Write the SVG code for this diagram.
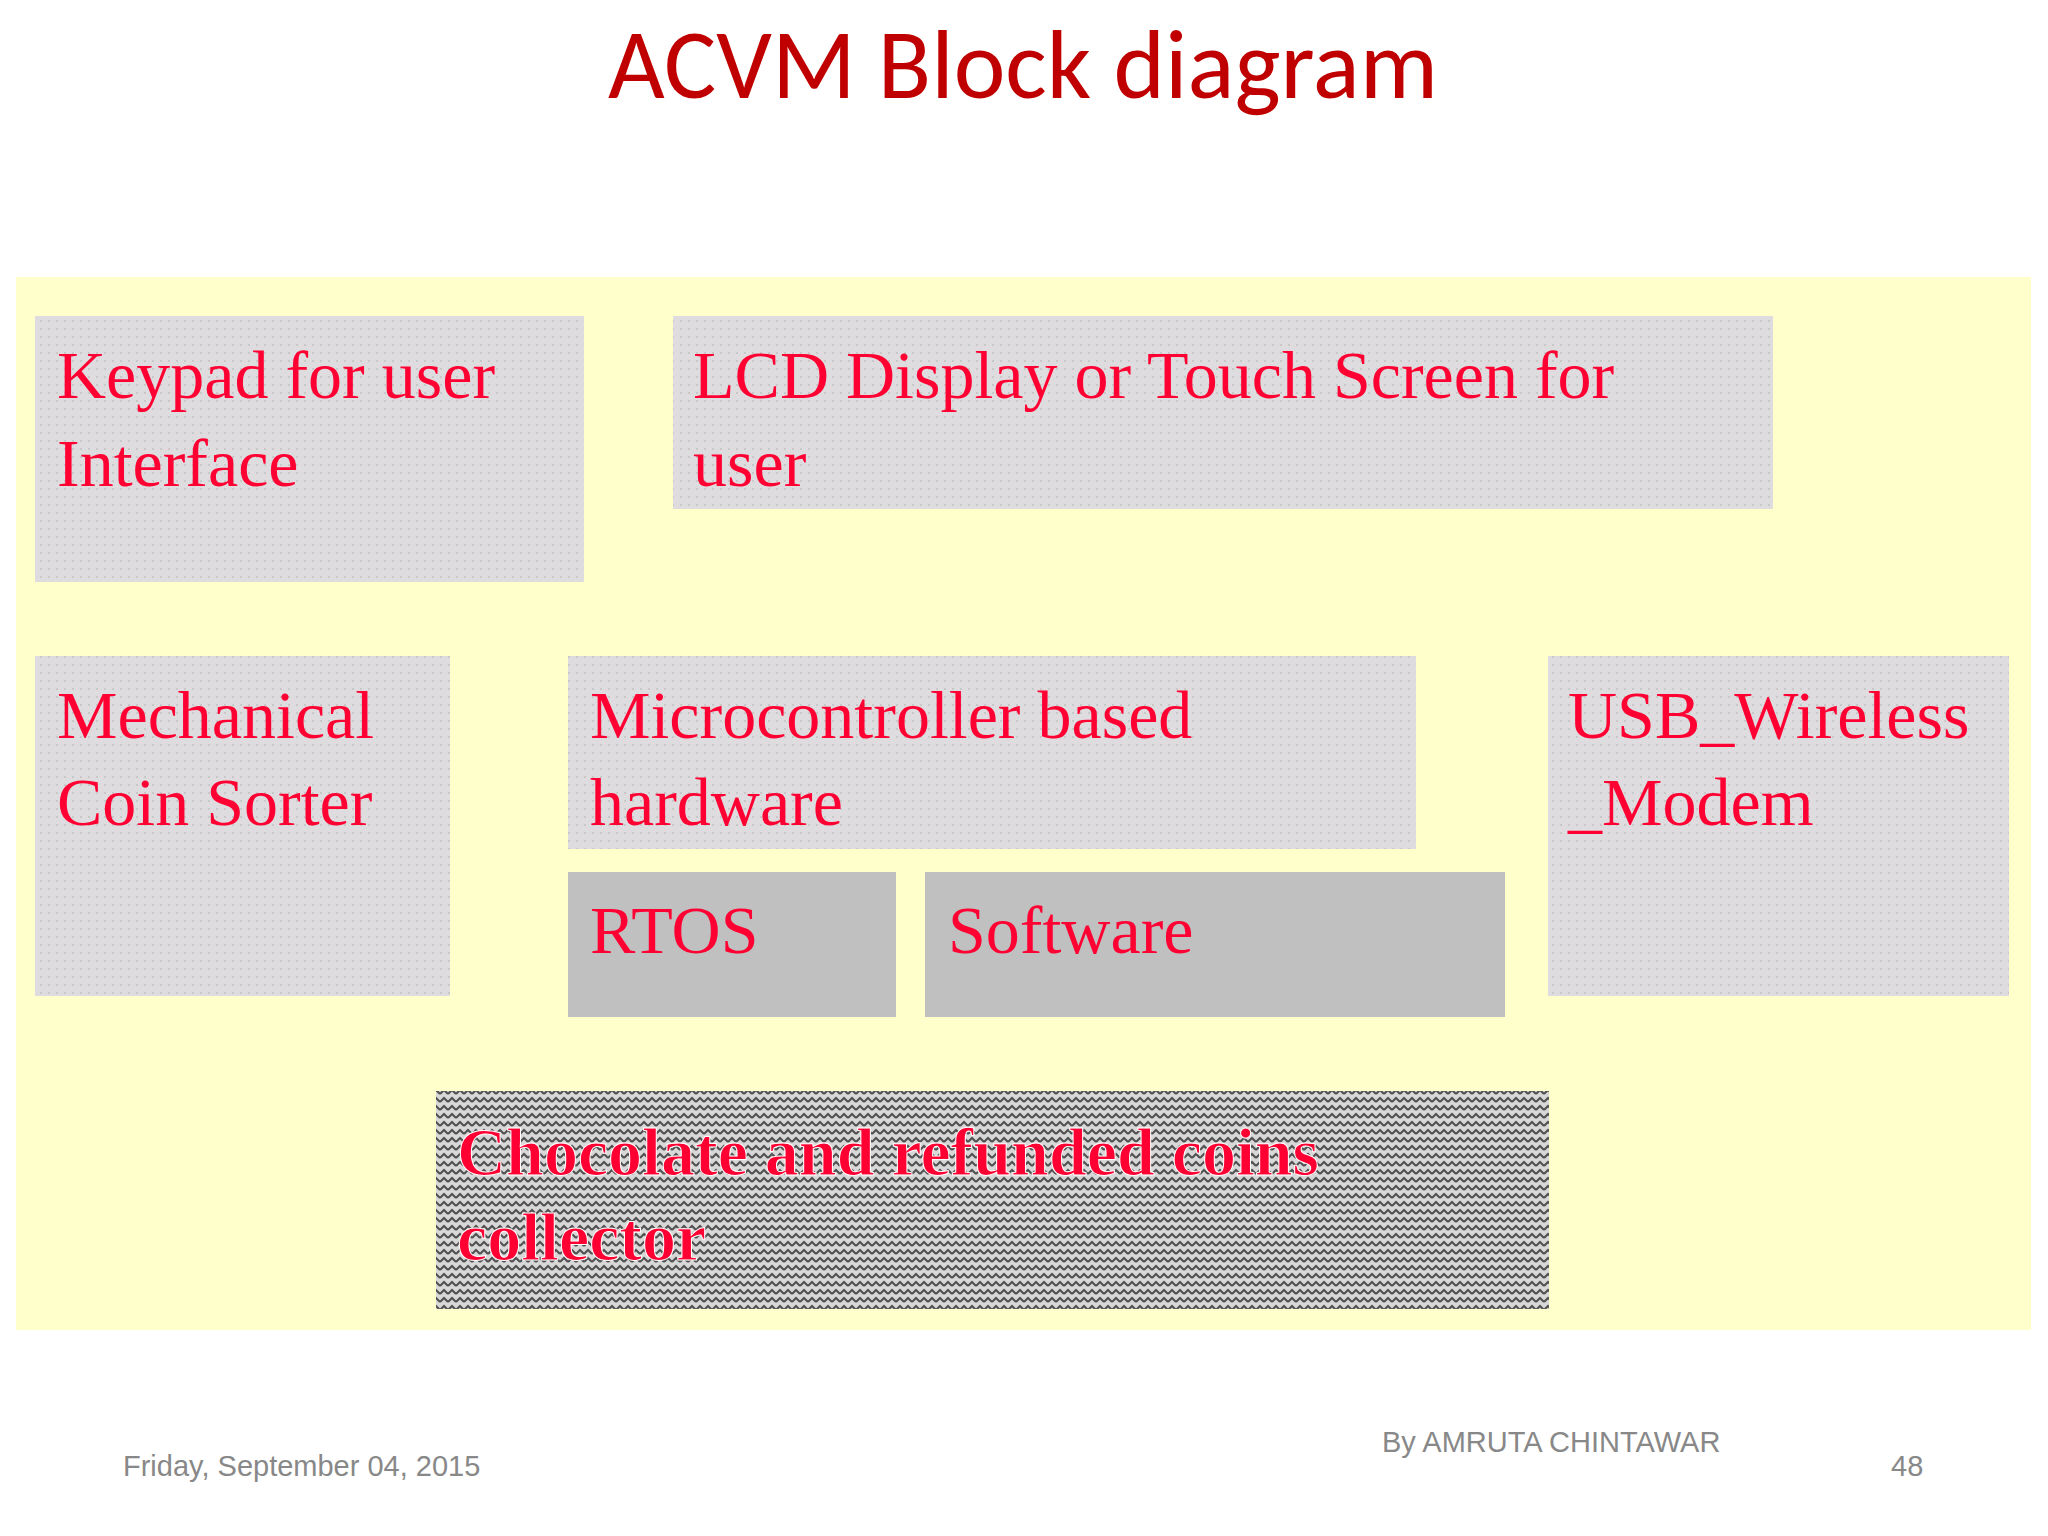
<svg xmlns="http://www.w3.org/2000/svg" width="2048" height="1536" viewBox="0 0 2048 1536">
<style>
.t{font-family:"Liberation Serif",serif;font-size:68px;fill:#FF0033}
.b{font-weight:bold;stroke:#fff;stroke-width:1px}
.f{font-family:"Liberation Sans",sans-serif;font-size:29px;fill:#888}
</style>
<defs>
<pattern id="dots" width="8" height="8" patternUnits="userSpaceOnUse">
<rect width="8" height="8" fill="#DEDCDE"/><rect x="0" y="0" width="2" height="2" fill="#C8C8C8"/>
</pattern>
<pattern id="chk" width="8" height="8" patternUnits="userSpaceOnUse">
<rect width="8" height="8" fill="#D8D8D8"/><path d="M0 6 L4 2 L8 6" stroke="#505050" stroke-width="2" fill="none"/>
</pattern>
</defs>
<rect width="2048" height="1536" fill="#fff"/>
<text x="1023" y="98" text-anchor="middle" font-family="Calibri,'Carlito','Liberation Sans',sans-serif" font-size="98" fill="#C00000">ACVM Block diagram</text>
<rect x="16" y="277" width="2015" height="1053" fill="#FFFFCC"/>
<g id="keypad"><rect x="35" y="316" width="549" height="266" fill="url(#dots)"/><text class="t" x="57" y="398">Keypad for user</text><text class="t" x="57" y="486">Interface</text></g>
<g id="lcd"><rect x="673" y="316" width="1100" height="193" fill="url(#dots)"/><text class="t" x="693" y="398">LCD Display or Touch Screen for</text><text class="t" x="693" y="486">user</text></g>
<g id="mech"><rect x="35" y="656" width="415" height="340" fill="url(#dots)"/><text class="t" x="57" y="738">Mechanical</text><text class="t" x="57" y="825">Coin Sorter</text></g>
<g id="micro"><rect x="568" y="656" width="848" height="193" fill="url(#dots)"/><text class="t" x="590" y="738">Microcontroller based</text><text class="t" x="590" y="825">hardware</text></g>
<g id="usb"><rect x="1548" y="656" width="461" height="340" fill="url(#dots)"/><text class="t" x="1568" y="738">USB_Wireless</text><text class="t" x="1568" y="825">_Modem</text></g>
<g id="rtos"><rect x="568" y="872" width="328" height="145" fill="#C0C0C0"/><text class="t" x="590" y="953">RTOS</text></g>
<g id="software"><rect x="925" y="872" width="580" height="145" fill="#C0C0C0"/><text class="t" x="948" y="953">Software</text></g>
<g id="collector"><rect x="436" y="1091" width="1113" height="218" fill="url(#chk)"/><text class="t b" x="457" y="1175">Chocolate and refunded coins</text><text class="t b" x="457" y="1260">collector</text></g>
<g id="connectors"/>
<text class="f" x="123" y="1476">Friday, September 04, 2015</text>
<text class="f" x="1382" y="1452">By AMRUTA CHINTAWAR</text>
<text class="f" x="1891" y="1476">48</text>
</svg>
